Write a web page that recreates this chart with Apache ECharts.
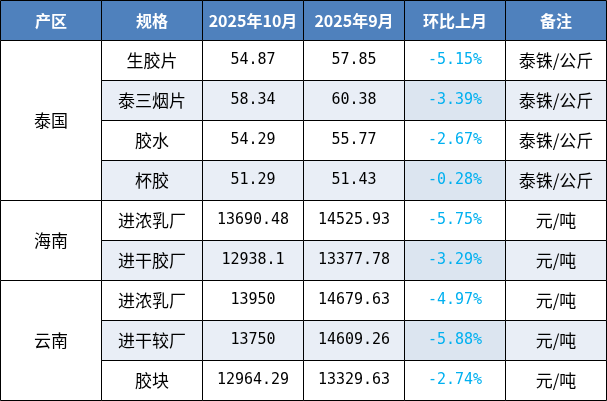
<!DOCTYPE html>
<html><head><meta charset="utf-8">
<script src="https://cdn.jsdelivr.net/npm/echarts@6/dist/echarts.min.js"></script>
<style>html,body{margin:0;padding:0;background:#fff}#c{width:607px;height:401px}</style>
</head><body><div id="c"></div>
<script>
const headers = ['产区','规格','2025年10月','2025年9月','环比上月','备注'];
const regions = ['泰国','海南','云南'];
const regionSpans = [4,2,3];
const specs = ['生胶片','泰三烟片','胶水','杯胶','进浓乳厂','进干胶厂','进浓乳厂','进干较厂','胶块'];
const oct = ['54.87','58.34','54.29','51.29','13690.48','12938.1','13950','13750','12964.29'];
const sep = ['57.85','60.38','55.77','51.43','14525.93','13377.78','14679.63','14609.26','13329.63'];
const mom = ['-5.15%','-3.39%','-2.67%','-0.28%','-5.75%','-3.29%','-4.97%','-5.88%','-2.74%'];
const units = ['泰铢/公斤','泰铢/公斤','泰铢/公斤','泰铢/公斤','元/吨','元/吨','元/吨','元/吨','元/吨'];

// cells: [col, row, rowspan, text, kind]
const cells = [];
headers.forEach((h,i)=>cells.push([i,0,1,h,'head']));
let r = 1;
regions.forEach((g,i)=>{cells.push([0,r,regionSpans[i],g,'region']); r+=regionSpans[i];});
specs.forEach((s,i)=>{
  const row=i+1, k = (i%2===1)?'alt':'plain';
  cells.push([1,row,1,s,k]);
  cells.push([2,row,1,oct[i],k+'Num']);
  cells.push([3,row,1,sep[i],k+'Num']);
  cells.push([4,row,1,mom[i],k+'Pct']);
  cells.push([5,row,1,units[i],k]);
});

const chart = echarts.init(document.getElementById('c'));
chart.setOption({
  animation:false,
  grid:{left:0,right:1,top:0,bottom:1},
  xAxis:{type:'value',min:0,max:6,show:false},
  yAxis:{type:'value',min:0,max:10,inverse:true,show:false},
  series:[{
    type:'custom',
    data:cells,
    encode:{x:0,y:1},
    renderItem:function(params,api){
      const c=api.value(0), rw=api.value(1), sp=api.value(2);
      const text=cells[params.dataIndex][3], kind=cells[params.dataIndex][4];
      const p0=api.coord([c,rw]), p1=api.coord([c+1,rw+sp]);
      let fill='#ffffff', color='#000000', weight='normal', font='"Noto Sans CJK SC", sans-serif', size=17;
      if(kind==='head'){fill='#4f81bd';color='#ffffff';weight='bold';size=16;}
      if(kind.indexOf('alt')===0){fill='#e9eef6';}
      if(kind==='altPct'){fill='#dce5f0';}
      if(kind.indexOf('Pct')>0){color='#00b0f0';}
      if(kind.indexOf('Num')>0||kind.indexOf('Pct')>0){font='"DejaVu Sans Mono", monospace';size=15;}
      const x=Math.round(p0[0])+0.5, y=Math.round(p0[1])+0.5;
      const w=Math.round(p1[0])-Math.round(p0[0]), h=Math.round(p1[1])-Math.round(p0[1]);
      return {type:'group',children:[
        {type:'rect',shape:{x:x,y:y,width:w,height:h},style:{fill:fill,stroke:'#000',lineWidth:1}},
        {type:'text',style:{x:x+w/2,y:y+h/2,text:text,align:'center',verticalAlign:'middle',
          fill:color,fontSize:size,fontWeight:weight,fontFamily:font}}
      ]};
    }
  }]
});
</script></body></html>
